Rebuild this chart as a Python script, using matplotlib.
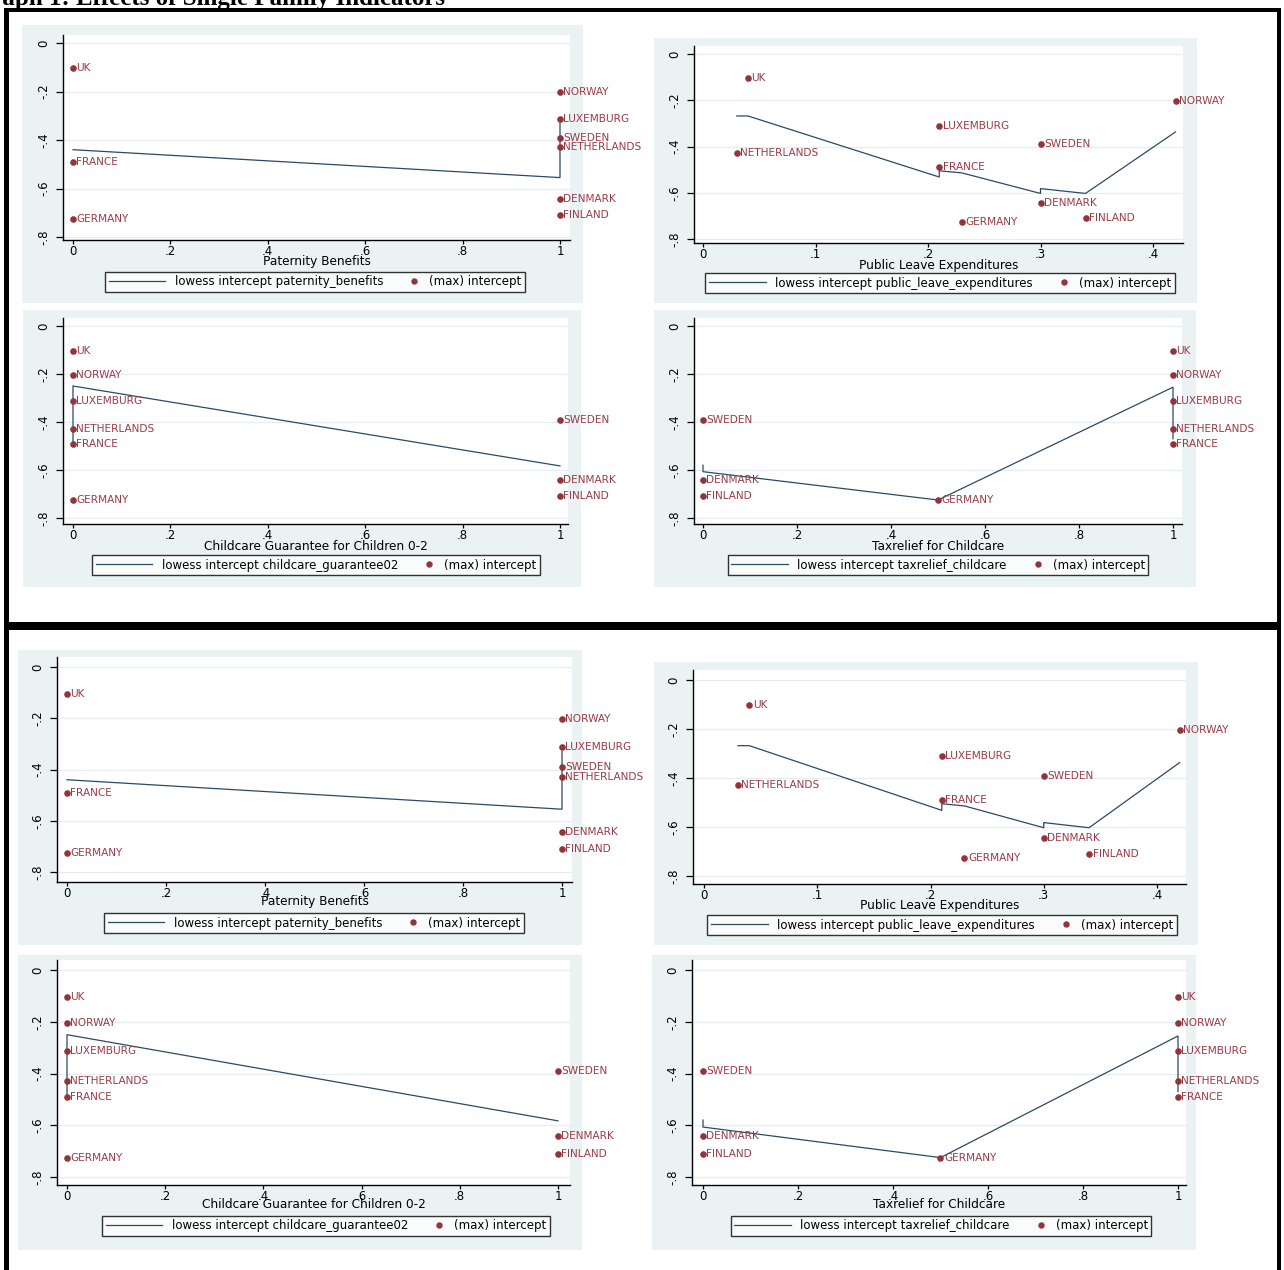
import matplotlib
matplotlib.use("Agg")
import matplotlib.pyplot as plt
from matplotlib.patches import Rectangle
from matplotlib.lines import Line2D
from matplotlib.legend_handler import HandlerBase

plt.rcParams['font.family'] = ['DejaVu Sans', 'Liberation Sans']

W, H = 1284, 1270

# ---------------- data ----------------
countries = ["UK", "NORWAY", "LUXEMBURG", "SWEDEN", "NETHERLANDS",
             "FRANCE", "DENMARK", "FINLAND", "GERMANY"]
intercept = [-0.104, -0.203, -0.312, -0.390, -0.430, -0.490, -0.643, -0.710, -0.726]

paternity_benefits = [0, 1, 1, 1, 1, 0, 1, 1, 0]
public_leave_expenditures = [0.04, 0.42, 0.21, 0.30, 0.03, 0.21, 0.30, 0.34, 0.23]
childcare_guarantee02 = [0, 0, 0, 1, 0, 0, 1, 1, 0]
taxrelief_childcare = [1, 1, 1, 0, 1, 1, 0, 0, 0.5]

lowess_pat_x = [0, 1, 1]
lowess_pat_y = [-0.44, -0.555, -0.33]
lowess_ple_x = [0.03, 0.04, 0.21, 0.21, 0.23, 0.30, 0.30, 0.34, 0.42]
lowess_ple_y = [-0.268, -0.268, -0.532, -0.505, -0.514, -0.603, -0.582, -0.603, -0.337]
lowess_ccg_x = [0, 0, 1]
lowess_ccg_y = [-0.49, -0.25, -0.583]
lowess_tax_x = [0, 0, 0.5, 1, 1]
lowess_tax_y = [-0.58, -0.607, -0.725, -0.255, -0.47]

y_ticks = [0, -0.2, -0.4, -0.6, -0.8]
y_ticklabels = ["0", "-.2", "-.4", "-.6", "-.8"]
x_ticks_unit = [0, 0.2, 0.4, 0.6, 0.8, 1]
x_ticklabels_unit = ["0", ".2", ".4", ".6", ".8", "1"]
x_ticks_ple = [0, 0.1, 0.2, 0.3, 0.4]
x_ticklabels_ple = ["0", ".1", ".2", ".3", ".4"]

panels_info = [
    dict(x=paternity_benefits, lx=lowess_pat_x, ly=lowess_pat_y,
         xt=x_ticks_unit, xtl=x_ticklabels_unit, title="Paternity Benefits",
         leg="lowess intercept paternity_benefits"),
    dict(x=public_leave_expenditures, lx=lowess_ple_x, ly=lowess_ple_y,
         xt=x_ticks_ple, xtl=x_ticklabels_ple, title="Public Leave Expenditures",
         leg="lowess intercept public_leave_expenditures"),
    dict(x=childcare_guarantee02, lx=lowess_ccg_x, ly=lowess_ccg_y,
         xt=x_ticks_unit, xtl=x_ticklabels_unit, title="Childcare Guarantee for Children 0-2",
         leg="lowess intercept childcare_guarantee02"),
    dict(x=taxrelief_childcare, lx=lowess_tax_x, ly=lowess_tax_y,
         xt=x_ticks_unit, xtl=x_ticklabels_unit, title="Taxrelief for Childcare",
         leg="lowess intercept taxrelief_childcare"),
]

# layout (pixels): bg box, axes box, x calibration, y calibration, title y, legend center
layouts = [
    # top box
    dict(bg=(22, 25, 583, 303), ax=(63, 35, 570, 240), xc=(0, 73, 1, 560), yc=(0, 43, -0.8, 237), ty=261, lc=(315, 282)),
    dict(bg=(654, 38, 1197, 303), ax=(694, 46, 1183, 243), xc=(0, 703, 0.4, 1153), yc=(0, 54, -0.8, 239), ty=265, lc=(940, 283)),
    dict(bg=(23, 310, 581, 587), ax=(63, 318, 568, 524), xc=(0, 73, 1, 560), yc=(0, 326, -0.8, 518), ty=546, lc=(316, 565)),
    dict(bg=(654, 310, 1196, 587), ax=(694, 318, 1182, 524), xc=(0, 703, 1, 1173), yc=(0, 326, -0.8, 518), ty=546, lc=(938, 565)),
    # bottom box
    dict(bg=(18, 650, 582, 945), ax=(57, 657, 572, 882), xc=(0, 67, 1, 562), yc=(0, 667, -0.8, 872), ty=902, lc=(314, 923)),
    dict(bg=(654, 662, 1198, 945), ax=(693, 670, 1186, 884), xc=(0, 704, 0.4, 1157), yc=(0, 680, -0.8, 876), ty=905, lc=(942, 925)),
    dict(bg=(18, 955, 582, 1250), ax=(57, 960, 570, 1185), xc=(0, 67, 1, 558), yc=(0, 970, -0.8, 1177), ty=1205, lc=(326, 1226)),
    dict(bg=(652, 955, 1196, 1250), ax=(692, 960, 1186, 1185), xc=(0, 703, 1, 1178), yc=(0, 970, -0.8, 1177), ty=1205, lc=(941, 1226)),
]

BG = "#EAF2F3"
MAROON = "#90353B"
LABEL_C = "#9A3C48"
NAVY = "#2B4A66"

fig = plt.figure(figsize=(W / 100, H / 100), dpi=100)


def fx(px):
    return px / W


def fy(py):
    return 1 - py / H


def pix2data(p, c):
    d0, p0, d1, p1 = c
    return d0 + (p - p0) * (d1 - d0) / (p1 - p0)


class RightMarkerHandler(HandlerBase):
    def create_artists(self, legend, orig_handle, xdescent, ydescent, width, height,
                       fontsize, trans):
        x = -xdescent + width - 4
        y = -ydescent + height / 2
        m = Line2D([x], [y], marker="o", color=MAROON, markersize=3.6,
                   linestyle="none", transform=trans)
        return [m]


for i, lay in enumerate(layouts):
    info = panels_info[i % 4]
    bx0, by0, bx1, by1 = lay["bg"]
    fig.patches.append(Rectangle((fx(bx0), fy(by1)), fx(bx1 - bx0), (by1 - by0) / H,
                                 transform=fig.transFigure, facecolor=BG, edgecolor="none", zorder=-5))
    l, t, r, b = lay["ax"]
    ax = fig.add_axes([fx(l), fy(b), fx(r - l), (b - t) / H])
    ax.set_zorder(1)
    ax.set_facecolor("white")
    ax.set_xlim(pix2data(l, lay["xc"]), pix2data(r, lay["xc"]))
    ax.set_ylim(pix2data(b, lay["yc"]), pix2data(t, lay["yc"]))
    for s in ["top", "right"]:
        ax.spines[s].set_visible(False)
    for s in ["left", "bottom"]:
        ax.spines[s].set_color("black")
        ax.spines[s].set_linewidth(1.0)
    ax.set_yticks(y_ticks)
    ax.set_yticklabels(y_ticklabels, rotation=90, va="center")
    ax.set_xticks(info["xt"])
    ax.set_xticklabels(info["xtl"])
    ax.tick_params(axis="y", length=5, width=0.9, pad=4, labelsize=8.5, colors="black")
    ax.tick_params(axis="x", length=3, width=0.9, pad=0.5, labelsize=8.5, colors="black")
    ax.grid(axis="y", color="#E6EDEF", linewidth=0.9)
    ax.set_axisbelow(True)

    ax.plot(info["lx"], info["ly"], color=NAVY, linewidth=0.9, zorder=3)
    ax.scatter(info["x"], intercept, s=14, color=MAROON, zorder=4, clip_on=False)
    for xv, yv, name in zip(info["x"], intercept, countries):
        ax.annotate(name, (xv, yv), xytext=(2.5, 0), textcoords="offset points",
                    va="center", ha="left", fontsize=7.6, color=LABEL_C,
                    annotation_clip=False, zorder=5)

    fig.text(fx((l + r) / 2), fy(lay["ty"]), info["title"], ha="center", va="center",
             fontsize=8.7, color="black", zorder=6)

    h_line = Line2D([], [], color=NAVY, linewidth=0.9)
    h_pt = Line2D([], [], color=MAROON, marker="o", markersize=3.6, linestyle="none")
    lg = fig.legend([h_line, h_pt], [info["leg"], "(max) intercept"], ncol=2,
                    loc="center", bbox_to_anchor=(fx(lay["lc"][0]), fy(lay["lc"][1])),
                    fontsize=8.5, frameon=True, fancybox=False, edgecolor="black",
                    handlelength=4.8, handletextpad=0.8, columnspacing=-1.7,
                    borderpad=0.3, borderaxespad=0,
                    handler_map={h_pt: RightMarkerHandler()})
    lg.get_frame().set_linewidth(1.0)
    lg.get_frame().set_facecolor("white")
    lg.set_zorder(6)

# outer frames
def hbar(x0, x1, y0, y1):
    fig.patches.append(Rectangle((fx(x0), fy(y1)), fx(x1 - x0), (y1 - y0) / H,
                                 transform=fig.transFigure, facecolor="black",
                                 edgecolor="none", zorder=10))

hbar(5, 1281, 8, 12)        # top border
hbar(5, 1281, 622, 630)     # separator
hbar(4, 9, 8, 1270)         # left border
hbar(1277, 1281, 8, 1270)   # right border

# partially visible caption at the very top
fig.text(fx(-28), fy(5), "Graph 1: Effects of Single Family Indicators",
         family=["Liberation Serif", "DejaVu Serif"], weight="bold", fontsize=18,
         ha="left", va="baseline", color="black")

fig.savefig("out.png", dpi=100)
